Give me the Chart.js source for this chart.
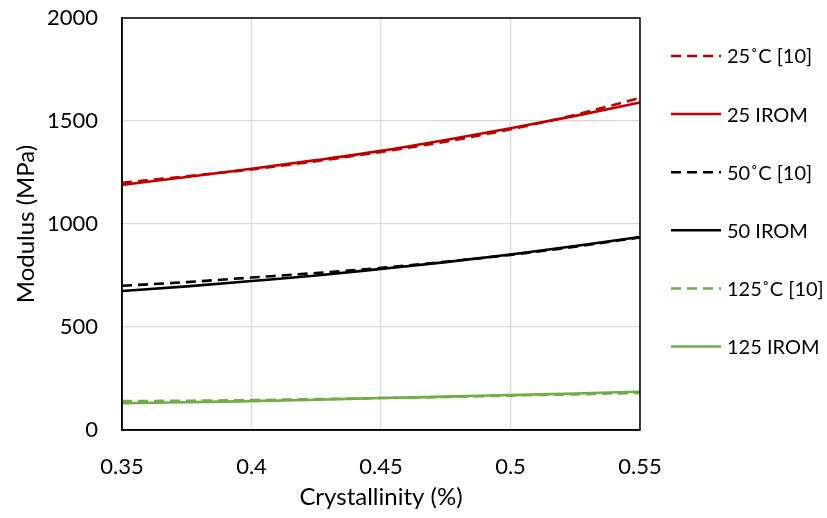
<!DOCTYPE html>
<html>
<head>
<meta charset="utf-8">
<script src="https://cdn.jsdelivr.net/npm/chart.js@4/dist/chart.umd.min.js"></script>
<style>
  html, body { margin: 0; padding: 0; background: #fff; }
  #wrap { width: 827px; height: 518px; }
</style>
</head>
<body>
<div id="wrap"><canvas id="modulusChart" width="827" height="518"></canvas></div>
<script>
// crystallinity fraction on x, modulus in MPa on y
const crystallinity = [0.35, 0.375, 0.4, 0.425, 0.45, 0.475, 0.5, 0.525, 0.55];

const ref25 = [1200, 1232, 1265, 1305, 1350, 1400, 1460, 1530, 1612];
const irom25 = [1190, 1228, 1268, 1310, 1355, 1408, 1465, 1525, 1590];
const ref50 = [700, 718, 740, 762, 787, 817, 850, 890, 935];
const irom50 = [675, 697, 723, 750, 782, 815, 852, 893, 937];
const ref125 = [140, 142, 145, 150, 155, 160, 167, 173, 180];
const irom125 = [130, 135, 140, 147, 155, 162, 170, 177, 186];

const seriesLabels = ['25˚C [10]', '25 IROM', '50˚C [10]', '50 IROM', '125˚C [10]', '125 IROM'];

const xTicks = [0.35, 0.4, 0.45, 0.5, 0.55];
const yTicks = [0, 500, 1000, 1500, 2000];

const RED = '#C00000';
const BLACK = '#000000';
const GREEN = '#70AD47';
const DASH = [10, 6];
const FONT = 'Lato, "Open Sans", sans-serif';

const series = [
  { data: ref25, color: RED, dashed: true },
  { data: irom25, color: RED, dashed: false },
  { data: ref50, color: BLACK, dashed: true },
  { data: irom50, color: BLACK, dashed: false },
  { data: ref125, color: GREEN, dashed: true },
  { data: irom125, color: GREEN, dashed: false },
];

const datasets = series.map((s, i) => ({
  label: seriesLabels[i],
  data: crystallinity.map((x, j) => ({ x, y: s.data[j] })),
  borderColor: s.color,
  backgroundColor: s.color,
  borderWidth: 2.6,
  borderDash: s.dashed ? DASH : [],
  pointRadius: 0,
  cubicInterpolationMode: 'monotone',
  fill: false,
}));

// frame around the plot plus the legend column on the right
const framePlugin = {
  id: 'frame',
  afterDraw(chart) {
    const { ctx, chartArea: a } = chart;
    ctx.save();
    ctx.strokeStyle = '#000';
    ctx.lineWidth = 1.5;
    ctx.strokeRect(a.left, a.top, a.right - a.left, a.bottom - a.top);

    const lx = 671, lw = 50, top = 56, step = 58.1;
    chart.data.datasets.forEach((ds, i) => {
      const y = top + i * step;
      ctx.beginPath();
      ctx.setLineDash(ds.borderDash);
      ctx.strokeStyle = ds.borderColor;
      ctx.lineWidth = 2.5;
      ctx.moveTo(lx, y);
      ctx.lineTo(lx + lw, y);
      ctx.stroke();
      ctx.setLineDash([]);
      ctx.fillStyle = '#000';
      ctx.font = '20px ' + FONT;
      ctx.textBaseline = 'middle';
      ctx.textAlign = 'left';
      ctx.fillText(ds.label, lx + lw + 6, y + 1);
    });
    ctx.restore();
  }
};

new Chart(document.getElementById('modulusChart'), {
  type: 'line',
  data: { datasets },
  options: {
    responsive: false,
    animation: false,
    layout: { padding: { top: 18, right: 187, left: 0, bottom: 0 } },
    plugins: {
      legend: { display: false },
      tooltip: { enabled: false },
    },
    scales: {
      x: {
        type: 'linear',
        min: 0.35,
        max: 0.55,
        afterFit: s => {
          s.height = 88;
          s.paddingLeft = 0;
          s.paddingRight = 0;
        },
        afterBuildTicks: s => { s.ticks = xTicks.map(v => ({ value: v })); },
        ticks: {
          padding: 24,
          color: '#000',
          font: { size: 22, family: FONT },
          callback: v => String(parseFloat(v.toFixed(2))),
        },
        grid: { color: '#d9d9d9', lineWidth: 1.2, drawTicks: false },
        border: { color: '#000', width: 1.5 },
        title: {
          display: true,
          text: 'Crystallinity (%)',
          color: '#000',
          font: { size: 24, family: FONT },
          padding: { top: 4, bottom: 6 },
        },
      },
      y: {
        min: 0,
        max: 2000,
        afterFit: s => {
          s.width = 122;
          s.paddingTop = 0;
          s.paddingBottom = 0;
        },
        afterBuildTicks: s => { s.ticks = yTicks.map(v => ({ value: v })); },
        ticks: {
          padding: 24,
          color: '#000',
          font: { size: 22, family: FONT },
          callback: v => String(v),
        },
        grid: { color: '#d9d9d9', lineWidth: 1.2, drawTicks: false },
        border: { color: '#000', width: 1.5 },
        title: {
          display: true,
          text: 'Modulus (MPa)',
          color: '#000',
          font: { size: 24, family: FONT },
          padding: { top: 12, bottom: 4 },
        },
      },
    },
  },
  plugins: [framePlugin],
});
</script>
</body>
</html>
